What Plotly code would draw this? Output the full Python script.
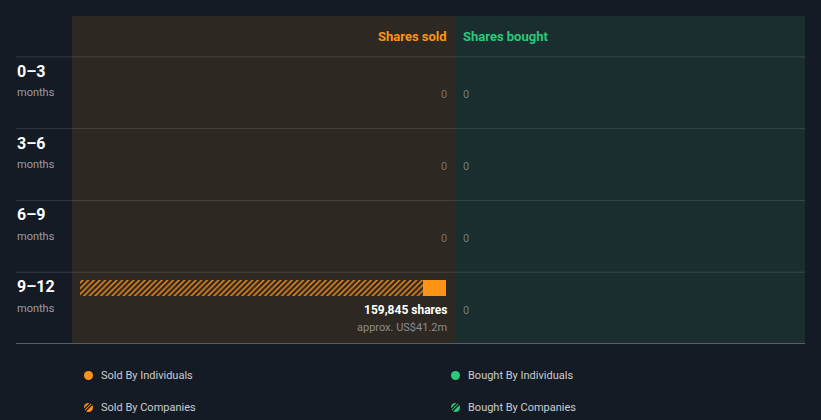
import plotly.graph_objects as go

# ---- data ----
periods = ["0\u20133", "3\u20136", "6\u20139", "9\u201312"]
period_unit = ["months", "months", "months", "months"]
sold_individuals = [0, 0, 0, 10000]
sold_companies = [0, 0, 0, 149845]
bought_individuals = [0, 0, 0, 0]
bought_companies = [0, 0, 0, 0]
sold_value_text = ["", "", "", "approx. US$41.2m"]
legend_labels = ["Sold By Individuals", "Bought By Individuals", "Sold By Companies", "Bought By Companies"]

W, H = 821, 420
ORANGE = "#ff9316"
GREEN = "#2bc97a"
BG = "#151b25"
SOLD_BG = "#2d2822"
BOUGHT_BG = "#1a2d2f"


def px(x):
    return x / W


def py(y):
    return 1 - y / H


sold_total = [a + b for a, b in zip(sold_individuals, sold_companies)]
bought_total = [a + b for a, b in zip(bought_individuals, bought_companies)]
xmax = max(max(sold_total), max(bought_total), 1)
rows = list(range(len(periods)))

fig = go.Figure()

bar_kw = dict(orientation="h", width=0.222, offset=0.111, marker_line_width=0,
              showlegend=False, hoverinfo="skip")
pat = lambda c: dict(shape="/", fgcolor=c, bgcolor="rgba(0,0,0,0)", fgopacity=1, size=4, solidity=0.35)
fig.add_trace(go.Bar(y=rows, x=sold_individuals, base=[0] * 4, xaxis="x", yaxis="y",
                     marker_color=ORANGE, **bar_kw))
fig.add_trace(go.Bar(y=rows, x=sold_companies, base=sold_individuals, xaxis="x", yaxis="y",
                     marker=dict(color="rgba(0,0,0,0)", pattern=pat(ORANGE)), **bar_kw))
fig.add_trace(go.Bar(y=rows, x=bought_individuals, base=[0] * 4, xaxis="x2", yaxis="y",
                     marker_color=GREEN, **bar_kw))
fig.add_trace(go.Bar(y=rows, x=bought_companies, base=bought_individuals, xaxis="x2", yaxis="y",
                     marker=dict(color="rgba(0,0,0,0)", pattern=pat(GREEN)), **bar_kw))

shapes = [
    dict(type="rect", xref="paper", yref="paper", x0=px(72), x1=px(455), y0=py(343), y1=py(16),
         fillcolor=SOLD_BG, line_width=0, layer="below"),
    dict(type="rect", xref="paper", yref="paper", x0=px(455), x1=px(805), y0=py(343), y1=py(16),
         fillcolor=BOUGHT_BG, line_width=0, layer="below"),
]
for r in rows:
    shapes.append(dict(type="line", xref="paper", yref="y", x0=px(16), x1=px(805), y0=r, y1=r,
                       line=dict(color="rgba(255,255,255,0.13)", width=1), layer="below"))
shapes.append(dict(type="line", xref="paper", yref="y", x0=px(16), x1=px(805), y0=len(rows), y1=len(rows),
                   line=dict(color="#9aa0a6", width=1)))

ann = []
FONT = "Roboto"
ann.append(dict(text="<b>Shares sold</b>", xref="x", yref="y", x=0, y=-0.29, xanchor="right",
                yanchor="middle", showarrow=False, xshift=3, font=dict(family=FONT, size=13, color=ORANGE)))
ann.append(dict(text="<b>Shares bought</b>", xref="x2", yref="y", x=0, y=-0.29, xanchor="left",
                yanchor="middle", showarrow=False, xshift=-2, font=dict(family=FONT, size=13, color=GREEN)))
for r in rows:
    ann.append(dict(text=f"<b>{periods[r]}</b>", xref="paper", yref="y", x=px(15), y=r + 0.2,
                    xanchor="left", yanchor="middle", showarrow=False,
                    font=dict(family=FONT, size=16, color="#ffffff")))
    ann.append(dict(text=period_unit[r], xref="paper", yref="y", x=px(15), y=r + 0.5,
                    xanchor="left", yanchor="middle", showarrow=False,
                    font=dict(family=FONT, size=11, color="#9a9da3")))
    if sold_total[r] > 0:
        ann.append(dict(text=f"<b>{sold_total[r]:,} shares</b>", xref="x", yref="y", x=0, y=r + 0.53,
                        xanchor="right", yanchor="middle", showarrow=False, xshift=3,
                        font=dict(family=FONT, size=12, color="#ffffff")))
        ann.append(dict(text=sold_value_text[r], xref="x", yref="y", x=0, y=r + 0.765,
                        xanchor="right", yanchor="middle", showarrow=False, xshift=3,
                        font=dict(family=FONT, size=11, color="#8c8c8c")))
    else:
        ann.append(dict(text="0", xref="x", yref="y", x=0, y=r + 0.53, xanchor="right",
                        yanchor="middle", showarrow=False, xshift=3,
                        font=dict(family=FONT, size=11, color="#6f6f6f")))
    bt = f"<b>{bought_total[r]:,} shares</b>" if bought_total[r] > 0 else "0"
    ann.append(dict(text=bt, xref="x2", yref="y", x=0, y=r + 0.53, xanchor="left",
                    yanchor="middle", showarrow=False, xshift=-2,
                    font=dict(family=FONT, size=11, color="#6f7a78")))

# legend (2x2 grid)
leg_pos = [(88.5, 375.5), (455.5, 375.5), (88.5, 407.5), (455.5, 407.5)]
leg_col = [ORANGE, GREEN, ORANGE, GREEN]
for i, (lab, (cx, cy), c) in enumerate(zip(legend_labels, leg_pos, leg_col)):
    shapes.append(dict(type="circle", xref="paper", yref="paper", x0=px(cx - 4.5), x1=px(cx + 4.5),
                       y0=py(cy + 4.5), y1=py(cy - 4.5), fillcolor=c, line_width=0))
    if i >= 2:
        # dark diagonal stripes over the dot -> hatched glyph
        for k in (-2.6, 0.6):
            shapes.append(dict(type="line", xref="paper", yref="paper",
                               x0=px(cx - 5 + k), y0=py(cy + 5 + k), x1=px(cx + 5 + k), y1=py(cy - 5 + k),
                               line=dict(color=BG, width=1.4)))
            shapes[-1].update(x0=px(cx - 5 + k), y0=py(cy + 5 - 0), x1=px(cx + 5 + k), y1=py(cy - 5))
    ann.append(dict(text=lab, xref="paper", yref="paper", x=px(cx + 10), y=py(cy), xanchor="left",
                    yanchor="middle", showarrow=False, font=dict(family=FONT, size=11, color="#cacdd1")))

fig.update_layout(
    width=W, height=H, margin=dict(l=0, r=0, t=0, b=0),
    paper_bgcolor=BG, plot_bgcolor="rgba(0,0,0,0)",
    barmode="overlay", bargap=0,
    xaxis=dict(domain=[px(80), px(446)], range=[xmax, 0], visible=False, fixedrange=True),
    xaxis2=dict(domain=[px(463), px(797)], range=[0, xmax], visible=False, fixedrange=True, anchor="y"),
    yaxis=dict(domain=[py(344), py(17)], range=[len(rows), -40 / 72], visible=False, fixedrange=True),
    shapes=shapes, annotations=ann, showlegend=False,
)

fig.write_html("out.html")
